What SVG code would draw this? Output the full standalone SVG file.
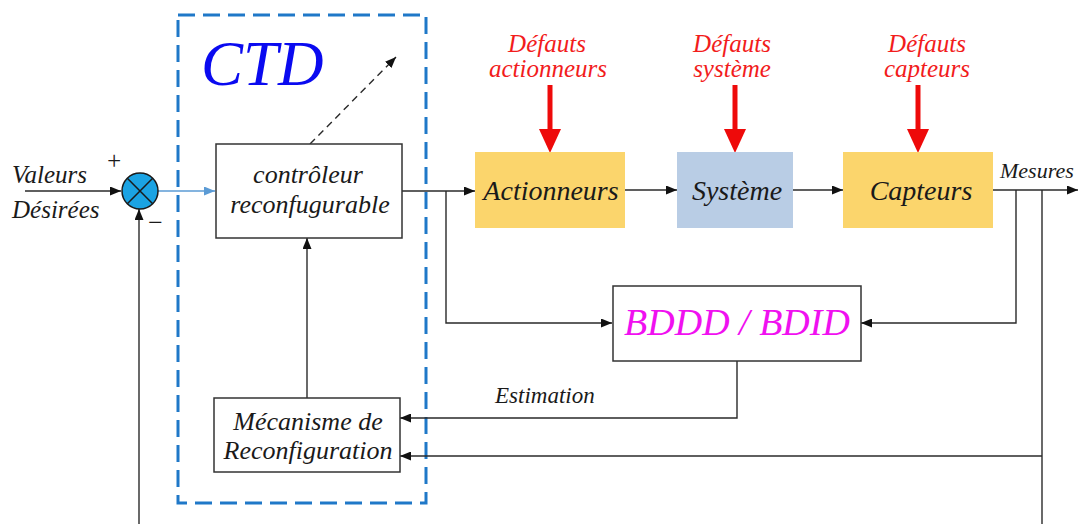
<svg xmlns="http://www.w3.org/2000/svg" width="1078" height="524" viewBox="0 0 1078 524">
  <style>
    text { font-family: "Liberation Serif", "Times New Roman", serif; font-style: italic; }
    .lbl { fill: #1a1a1a; }
    .fault { fill: #f21c1c; font-size: 25px; text-anchor: middle; }
    .box { fill: #ffffff; stroke: #333333; stroke-width: 1.5; }
    .wire { fill: none; stroke: #2a2a2a; stroke-width: 1.4; }
    .redw { fill: none; stroke: #ee0a0a; stroke-width: 5; }
  </style>
  <defs>
    <marker id="arr" markerUnits="userSpaceOnUse" markerWidth="11" markerHeight="9" viewBox="0 0 11 9" refX="11" refY="4.5" orient="auto">
      <path d="M0,0 L11,4.5 L0,9 z" fill="#111111"/>
    </marker>
    <marker id="arrBlue" markerUnits="userSpaceOnUse" markerWidth="11" markerHeight="9" viewBox="0 0 11 9" refX="11" refY="4.5" orient="auto">
      <path d="M0,0 L11,4.5 L0,9 z" fill="#5b9bd5"/>
    </marker>
    <marker id="arrRed" markerUnits="userSpaceOnUse" markerWidth="24" markerHeight="22" viewBox="0 0 24 22" refX="0" refY="11" orient="auto">
      <path d="M0,0 L24,11 L0,22 z" fill="#ee0a0a"/>
    </marker>
  </defs>

  <!-- CTD frame -->
  <g id="ctd">
    <rect x="178" y="15" width="248" height="488" fill="none" stroke="#1f78c8" stroke-width="3" stroke-dasharray="17 8"/>
    <text x="201" y="85" font-size="63" fill="#0a0af0">CTD</text>
  </g>

  <!-- connectors -->
  <g id="connectors">
    <path class="wire" d="M25,191 H121" marker-end="url(#arr)"/>
    <path class="wire" d="M139,524 V209" marker-end="url(#arr)"/>
    <path d="M158,191 H215" fill="none" stroke="#5b9bd5" stroke-width="1.4" marker-end="url(#arrBlue)"/>
    <path class="wire" d="M402,191 H475" marker-end="url(#arr)"/>
    <path class="wire" d="M446,191 V323 H612" marker-end="url(#arr)"/>
    <path class="wire" d="M625,190 H677" marker-end="url(#arr)"/>
    <path class="wire" d="M793,190 H843" marker-end="url(#arr)"/>
    <path class="wire" d="M993,190 H1078" marker-end="url(#arr)"/>
    <path class="wire" d="M1016,190 V323 H861" marker-end="url(#arr)"/>
    <path class="wire" d="M737,361 V418 H400" marker-end="url(#arr)"/>
    <path class="wire" d="M1042,190 V524"/>
    <path class="wire" d="M1042,456 H400" marker-end="url(#arr)"/>
    <path class="wire" d="M307,398 V238" marker-end="url(#arr)"/>
    <path class="wire" d="M310,144 L396,57" stroke-dasharray="7 5" marker-end="url(#arr)"/>
    <path class="redw" d="M550,85 V129" marker-end="url(#arrRed)"/>
    <path class="redw" d="M735,85 V129" marker-end="url(#arrRed)"/>
    <path class="redw" d="M918,85 V129" marker-end="url(#arrRed)"/>
  </g>

  <!-- input labels and summing junction -->
  <g id="input">
    <text class="lbl" x="12" y="183" font-size="25">Valeurs</text>
    <text class="lbl" x="12" y="218" font-size="25">Désirées</text>
  </g>
  <g id="sum">
    <circle cx="140" cy="191" r="18" fill="#1ba3e3" stroke="#1a1a1a" stroke-width="1.5"/>
    <path d="M127.3,178.3 L152.7,203.7 M152.7,178.3 L127.3,203.7" stroke="#1a1a1a" stroke-width="1.5"/>
    <text class="lbl" x="114" y="169" font-size="25" font-style="normal" text-anchor="middle">+</text>
    <text class="lbl" x="155" y="231" font-size="26" font-style="normal" text-anchor="middle">−</text>
  </g>

  <g id="controleur">
    <rect class="box" x="216" y="144" width="186" height="94"/>
    <text class="lbl" x="308" y="183" font-size="26" text-anchor="middle">contrôleur</text>
    <text class="lbl" x="310" y="213" font-size="26" text-anchor="middle">reconfugurable</text>
  </g>

  <g id="mecanisme">
    <rect class="box" x="214" y="398" width="186" height="74"/>
    <text class="lbl" x="308" y="430" font-size="26" text-anchor="middle">Mécanisme de</text>
    <text class="lbl" x="308" y="459" font-size="26" text-anchor="middle">Reconfiguration</text>
  </g>

  <g id="actionneurs">
    <rect x="475" y="152" width="150" height="76" fill="#fbd56c"/>
    <text class="lbl" x="551" y="200" font-size="28" text-anchor="middle">Actionneurs</text>
  </g>
  <g id="systeme">
    <rect x="677" y="152" width="116" height="76" fill="#b9cde5"/>
    <text class="lbl" x="737" y="200" font-size="28" text-anchor="middle">Système</text>
  </g>
  <g id="capteurs">
    <rect x="843" y="152" width="150" height="76" fill="#fbd56c"/>
    <text class="lbl" x="921" y="200" font-size="28" text-anchor="middle">Capteurs</text>
  </g>

  <g id="bddd">
    <rect class="box" x="613" y="286" width="248" height="75"/>
    <text x="737" y="335" font-size="38" fill="#f010f0" text-anchor="middle">BDDD / BDID</text>
  </g>

  <g id="defauts">
    <text class="fault" x="547" y="52">Défauts</text>
    <text class="fault" x="548" y="77">actionneurs</text>
    <text class="fault" x="732" y="52">Défauts</text>
    <text class="fault" x="732" y="77">système</text>
    <text class="fault" x="927" y="52">Défauts</text>
    <text class="fault" x="927" y="77">capteurs</text>
  </g>

  <g id="labels">
    <text class="lbl" x="1000" y="178" font-size="22">Mesures</text>
    <text class="lbl" x="495" y="403" font-size="23">Estimation</text>
  </g>
</svg>
